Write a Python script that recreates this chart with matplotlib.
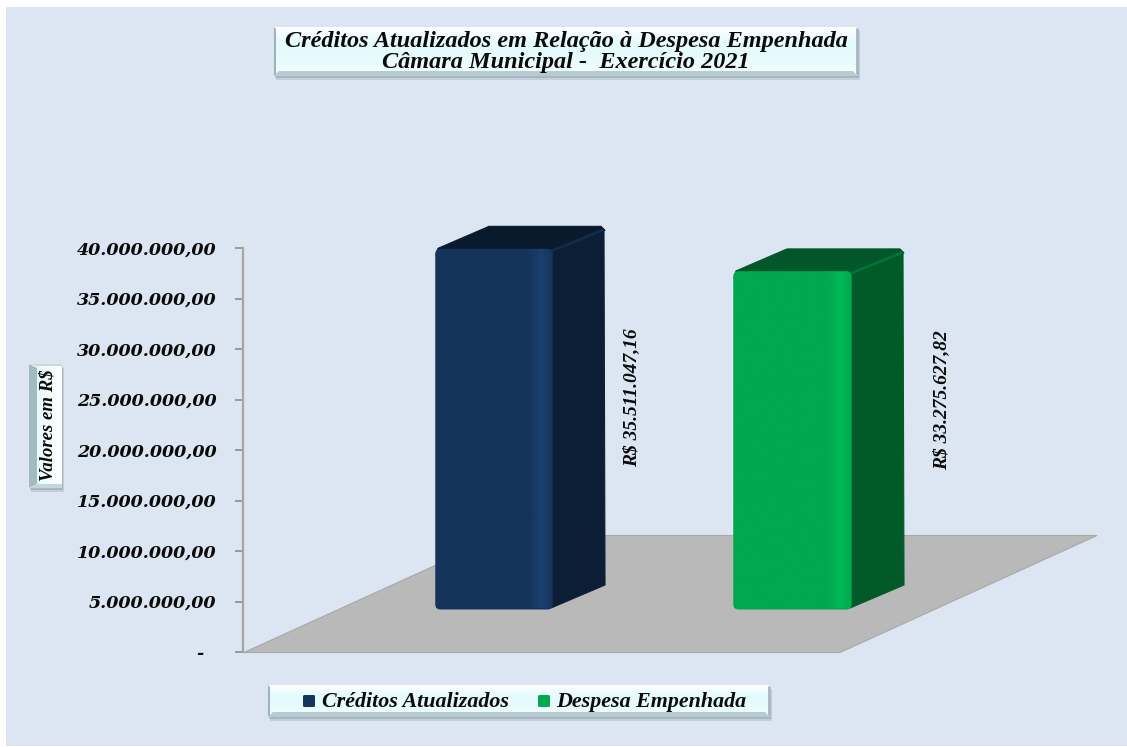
import numpy as np
import matplotlib.pyplot as plt
from matplotlib.colors import LinearSegmentedColormap
from matplotlib.patches import FancyBboxPatch, Polygon, Rectangle
from matplotlib.ticker import FuncFormatter

# dados do grafico
categorias = ['Créditos Atualizados', 'Despesa Empenhada']
valores = [35511047.16, 33275627.82]
rotulos = ['R$ 35.511.047,16', 'R$ 33.275.627,82']
ticks = [0, 5000000, 10000000, 15000000, 20000000, 25000000, 30000000, 35000000, 40000000]
titulo = 'Créditos Atualizados em Relação à Despesa Empenhada\nCâmara Municipal -  Exercício 2021'
rotulo_y = 'Valores em R$'

W, H = 1127, 747
FONTE = 'Liberation Serif'

plt.rcParams['font.family'] = FONTE
fig = plt.figure(figsize=(W / 100, H / 100), dpi=100, facecolor='white')


def formata(v, pos):
    if v == 0:
        return '-  '
    return f'{v:,.2f}'.replace(',', '#').replace('.', ',').replace('#', '.')


# camada em pixels para o fundo e as caixas
px = fig.add_axes([0, 0, 1, 1], zorder=0)
px.set_xlim(0, W)
px.set_ylim(H, 0)
px.axis('off')

# eixo de valores
ax = fig.add_axes([243 / W, (H - 652) / H, 1 / W, 404 / H], zorder=1)
ax.patch.set_alpha(0)
ax.set_ylim(0, 40000000)
ax.set_yticks(ticks)
ax.yaxis.set_major_formatter(FuncFormatter(formata))
ax.set_xticks([])
for s in ['top', 'right', 'bottom']:
    ax.spines[s].set_visible(False)
ax.spines['left'].set_color('#A6A6A6')
ax.spines['left'].set_linewidth(1.6)
ax.tick_params(axis='y', length=6, width=1.2, color='#8C8C8C', pad=13)
for t in ax.get_yticklabels():
    t.set_fontsize(12.6)
    t.set_family('DejaVu Serif')
    t.set_fontweight('bold')
    t.set_fontstyle('italic')
    t.set_color('#0A0A0A')


def altura_px(v):
    # altura em pixels de um valor, pela escala do eixo
    return ax.transData.transform((0, v))[1] - ax.transData.transform((0, 0))[1]


def gradiente(box, cores, vertical=False, clip=None, z=3):
    x0, y0, x1, y1 = box
    cmap = LinearSegmentedColormap.from_list('g', cores)
    g = np.linspace(0, 1, 256)
    g = g.reshape(-1, 1) if vertical else g.reshape(1, -1)
    im = px.imshow(g, cmap=cmap, extent=(x0, x1, y1, y0), aspect='auto', zorder=z,
                   interpolation='bilinear', origin='upper')
    if clip is not None:
        im.set_clip_path(clip)
    px.set_xlim(0, W)
    px.set_ylim(H, 0)
    return im


def sombra(x0, y0, x1, y1):
    px.add_patch(Rectangle((x0 + 2, y0 + 4), x1 - x0, y1 - y0, fc='#6F7F8F', ec='none', alpha=0.22, zorder=5))
    px.add_patch(Rectangle((x0 + 1, y0 + 2), x1 - x0, y1 - y0, fc='#6F7F8F', ec='none', alpha=0.32, zorder=5))


def caixa(x0, y0, x1, y1):
    # caixa horizontal com efeito de chanfro
    sombra(x0, y0, x1, y1)
    gradiente((x0, y0, x1, y1), ['#FFFFFF', '#E4FAFD', '#E8FBFD', '#F4FEFF'], vertical=True, z=6)
    b = 5
    px.add_patch(Polygon([(x0, y1), (x0 + b, y1 - b), (x1 - b, y1 - b), (x1, y1)], fc='#B7CBD0', ec='none', zorder=7))
    px.add_patch(Polygon([(x0, y0), (x0 + 2, y0 + 2), (x0 + 2, y1 - 2), (x0, y1)], fc='#9DB2B9', ec='none', zorder=7))
    px.add_patch(Polygon([(x1, y0), (x1 - 2, y0 + 2), (x1 - 2, y1 - 2), (x1, y1)], fc='#A9BDC3', ec='none', zorder=7))


def caixa_vertical(x0, y0, x1, y1):
    sombra(x0, y0, x1, y1)
    gradiente((x0, y0, x1, y1), ['#E0F7FA', '#EFFCFD', '#FFFFFF'], z=6)
    px.add_patch(Polygon([(x0, y0), (x0 + 8, y0 + 4), (x0 + 8, y1 - 4), (x0, y1)], fc='#A3BAC1', ec='none', zorder=7))
    px.add_patch(Polygon([(x0, y1), (x0 + 8, y1 - 4), (x1, y1 - 4), (x1, y1)], fc='#C5D5D9', ec='none', zorder=7))
    px.add_patch(Polygon([(x0, y0), (x1, y0), (x1, y0 + 2), (x0 + 8, y0 + 2)], fc='#C9D8DC', ec='none', zorder=7))


# fundo
px.add_patch(Rectangle((6, 7), W - 6, H - 8, fc='#DCE6F2', ec='none', zorder=0))

# piso
px.add_patch(Polygon([(244, 652.5), (840, 652.5), (1097, 535.5), (501, 535.5)],
                     fc='#B9B9B9', ec='#A8A8A8', lw=0.8, zorder=1))

# barras
DX, DY = 52, 23
BASE = 608
posicoes = [(435, 553), (733, 852)]
rot_pos = [(632, 398), (942, 400)]
cores_frente = [['#15345B'] * 9 + ['#1B3F6E', '#15345B'],
                ['#00A84F'] * 9 + ['#00B857', '#00A84F']]
cores_topo = ['#0A1A2D', '#02572A']
cores_lado = ['#0C1E35', '#025A29']
cores_aresta = ['#12304F', '#037A3A']

for (x0, x1), v, cf, ct, cl, ca, rot, (rx, ry) in zip(posicoes, valores, cores_frente, cores_topo,
                                                      cores_lado, cores_aresta, rotulos, rot_pos):
    topo = BASE - altura_px(v)
    # topo e lateral
    px.add_patch(Polygon([(x0 + 1, topo + 6), (x0 + 3, topo - 1), (x0 + DX + 2, topo - DY), (x1 + DX - 4, topo - DY),
                          (x1 + DX, topo - DY + 4), (x1, topo + 6)], fc=ct, ec=ct, lw=0.8, zorder=2))
    px.add_patch(Polygon([(x1 - 2, topo + 2), (x1 + DX - 1, topo - DY + 3), (x1 + DX, BASE - DY), (x1 - 2, BASE)],
                         fc=cl, ec=cl, lw=0.8, zorder=2))
    px.plot([x1, x1 + DX - 3], [topo + 1, topo - DY + 4], color=ca, lw=2, alpha=0.8, zorder=2.5)
    # frente com cantos arredondados
    frente = FancyBboxPatch((x0 + 4, topo + 3), x1 - x0 - 8, BASE - topo - 5,
                            boxstyle='round,pad=3.5,rounding_size=5', fc=cf[0], ec='none',
                            zorder=3, mutation_aspect=1)
    px.add_patch(frente)
    gradiente((x0, topo, x1, BASE), cf, clip=frente, z=3)
    px.text(rx, ry, rot, rotation=90, ha='center', va='center', fontsize=14, fontstyle='italic',
            fontweight='bold', color='#0A0A0A', zorder=4)

# titulo
caixa(274, 27, 858, 76)
px.text(566, 52, titulo, ha='center', va='center', fontsize=17.5, fontweight='bold', fontstyle='italic',
        color='#0A0A0A', linespacing=1.0, zorder=8)

# rotulo do eixo
caixa_vertical(29, 364, 62, 488)
px.text(48, 425, rotulo_y, rotation=90, ha='center', va='center', fontsize=13.5, fontweight='bold',
        fontstyle='italic', color='#0A0A0A', zorder=8)

# legenda
caixa(268, 685, 770, 717)
leg_x = [303, 538]
leg_txt = [322, 556]
leg_cor = ['#15345B', '#00A84F']
for lx, tx, c, nome in zip(leg_x, leg_txt, leg_cor, categorias):
    px.add_patch(FancyBboxPatch((lx + 1, 696), 10, 10, boxstyle='round,pad=1,rounding_size=1.5',
                                fc=c, ec='none', zorder=8))
    px.text(tx, 702, nome, ha='left', va='center', fontsize=15.8, fontweight='bold', fontstyle='italic',
            color='#0A0A0A', zorder=8)

fig.savefig('out.png', dpi=100)
